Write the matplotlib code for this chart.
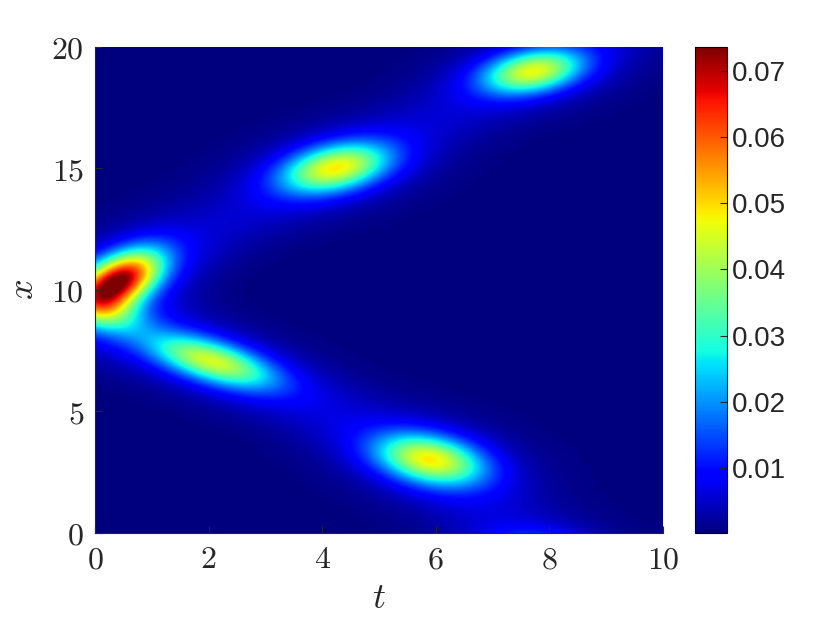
import numpy as np
import matplotlib
matplotlib.use('Agg')
import matplotlib.pyplot as plt

plt.rcParams['mathtext.fontset'] = 'cm'

# wave packet peaks: centre (t, x), peak value, widths, tilt
blob_t = [0.40, 0.20, 2.06, 4.23, 5.90, 7.71, 8.10]
blob_x = [10.35, 9.10, 7.04, 15.00, 3.00, 18.97, -1.40]
blob_amp = [0.0630, 0.0200, 0.0360, 0.0400, 0.0400, 0.0380, 0.0400]
blob_st = [0.52, 0.45, 0.75, 0.65, 0.65, 0.60, 0.65]
blob_sx = [0.85, 0.65, 0.75, 0.70, 0.72, 0.62, 0.70]
blob_rho = [0.50, -0.30, -0.60, 0.35, -0.30, 0.30, -0.30]

# faint halo around each peak
halo_amp = [0.006, 0.003, 0.005, 0.005, 0.005, 0.005, 0.004]

# faint tracks joining the peaks (t, x waypoints)
upper_t = [0.40, 4.23, 7.71, 10.0]
upper_x = [10.35, 15.00, 18.97, 21.6]
lower_t = [0.20, 2.06, 5.90, 8.10, 10.0]
lower_x = [9.10, 7.04, 3.00, -1.40, -5.0]
track_amp = [0.0035, 0.0035]

t_ticks = [0, 2, 4, 6, 8, 10]
x_ticks = [0, 5, 10, 15, 20]
cb_ticks = [0.01, 0.02, 0.03, 0.04, 0.05, 0.06, 0.07]
vmin, vmax = 0.0002, 0.0736

t = np.linspace(0, 10, 601)
x = np.linspace(0, 20, 601)
T, X = np.meshgrid(t, x)
u = np.zeros_like(T)


def bump(t0, x0, a, st, sx, rho):
    dt = (T - t0) / st
    dx = (X - x0) / sx
    q = (dt**2 - 2 * rho * dt * dx + dx**2) / (1 - rho**2)
    return a * np.exp(-q / 2)


for i in range(len(blob_t)):
    u += bump(blob_t[i], blob_x[i], blob_amp[i], blob_st[i], blob_sx[i], blob_rho[i])
    u += bump(blob_t[i], blob_x[i], halo_amp[i], 2 * blob_st[i], 2 * blob_sx[i], blob_rho[i])


def track(tt, xx, a, w=0.75):
    d2 = np.full_like(T, np.inf)
    for k in range(len(tt) - 1):
        p = np.array([tt[k], xx[k]])
        q = np.array([tt[k + 1], xx[k + 1]])
        v = q - p
        s = ((T - p[0]) * v[0] + (X - p[1]) * v[1]) / (v @ v)
        s = np.clip(s, 0, 1)
        d2 = np.minimum(d2, (T - p[0] - s * v[0])**2 + (X - p[1] - s * v[1])**2)
    return a * np.exp(-d2 / (2 * w**2))


u += track(upper_t, upper_x, track_amp[0])
u += track(lower_t, lower_x, track_amp[1])

fig = plt.figure(figsize=(8.37, 6.28), dpi=100)
ax = fig.add_axes([0.1135, 0.1513, 0.6786, 0.7739])
cax = fig.add_axes([0.8303, 0.1513, 0.0383, 0.7739])

im = ax.imshow(u, origin='lower', extent=[0, 10, 0, 20], aspect='auto',
               cmap='jet', vmin=vmin, vmax=vmax, interpolation='bilinear')

gray = (0.15, 0.15, 0.15)
ax.set_xticks(t_ticks, labels=[f'${v}$' for v in t_ticks])
ax.set_yticks(x_ticks, labels=[f'${v}$' for v in x_ticks])
ax.tick_params(direction='in', length=5, width=0.8, color=gray,
               labelsize=23, labelcolor=gray, pad=8)
ax.set_xlabel('$t$', fontsize=26, color=gray, labelpad=4)
ax.set_ylabel('$x$', fontsize=26, color=gray, labelpad=8)
for s in ['top', 'right']:
    ax.spines[s].set_visible(False)
for s in ['left', 'bottom']:
    ax.spines[s].set_color(gray)
    ax.spines[s].set_linewidth(0.8)

cb = fig.colorbar(im, cax=cax, ticks=cb_ticks)
cb.ax.tick_params(direction='in', length=5, width=0.8, color=gray,
                  labelsize=20, labelcolor=gray)
cb.ax.set_yticklabels([f'{v:.2f}' for v in cb_ticks], family='Liberation Sans')
cb.outline.set_linewidth(0.8)

fig.savefig('out.png', dpi=100)
